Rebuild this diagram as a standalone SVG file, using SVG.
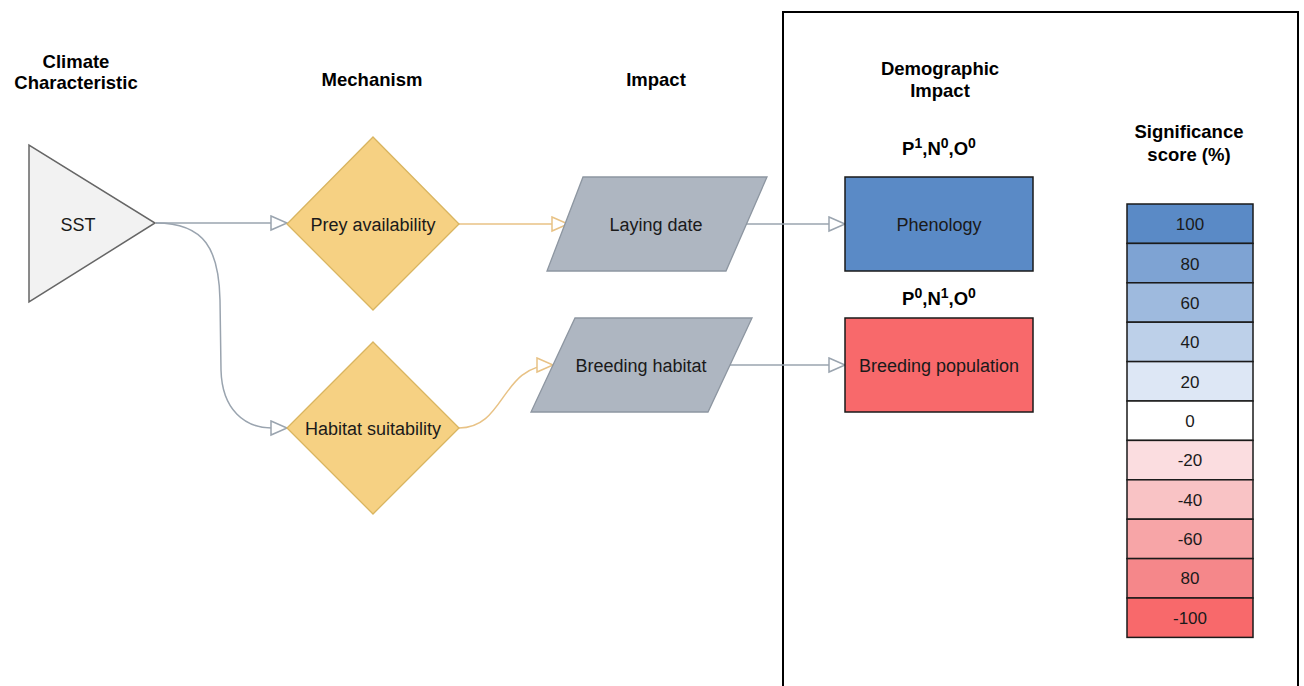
<svg xmlns="http://www.w3.org/2000/svg" width="1304" height="686" viewBox="0 0 1304 686">
<defs>
<style>
text{font-family:"Liberation Sans",Arial,sans-serif;fill:#1a1a1a;}
.h{font-size:18.5px;font-weight:bold;text-anchor:middle;fill:#000;}
.l{font-size:18px;text-anchor:middle;}
.s{font-size:17px;text-anchor:middle;}
.sup{font-size:14px;}
.dia{fill:#F6D183;stroke:#D9B560;stroke-width:1.3;}
.par{fill:#AEB6C1;stroke:#8D96A1;stroke-width:1.3;}
.g{fill:none;stroke:#9AA4AF;stroke-width:1.5;}
.o{fill:none;stroke:#E8C285;stroke-width:1.5;}
.cell{stroke:#1a1a1a;stroke-width:1.5;}
</style>
<marker id="ag" markerUnits="userSpaceOnUse" markerWidth="20" markerHeight="18" refX="17" refY="8" orient="auto">
<path d="M1,1 L17,8 L1,15 Z" fill="#fff" stroke="#9AA4AF" stroke-width="1.5"/>
</marker>
<marker id="ao" markerUnits="userSpaceOnUse" markerWidth="20" markerHeight="18" refX="17" refY="8" orient="auto">
<path d="M1,1 L17,8 L1,15 Z" fill="#fff" stroke="#E8C285" stroke-width="1.5"/>
</marker>
</defs>
<rect width="1304" height="686" fill="#fff"/>
<rect id="panel" x="783" y="12" width="515" height="700" fill="none" stroke="#000" stroke-width="2"/>

<g id="headers">
<text class="h" x="76" y="68">Climate</text>
<text class="h" x="76" y="89">Characteristic</text>
<text class="h" x="372" y="86">Mechanism</text>
<text class="h" x="656" y="86">Impact</text>
<text class="h" x="940" y="75">Demographic</text>
<text class="h" x="940" y="97">Impact</text>
<text class="h" x="1189" y="138">Significance</text>
<text class="h" x="1189" y="161">score (%)</text>
<text class="h" x="939" y="155">P<tspan class="sup" dy="-7">1</tspan><tspan dy="7">,N</tspan><tspan class="sup" dy="-7">0</tspan><tspan dy="7">,O</tspan><tspan class="sup" dy="-7">0</tspan></text>
<text class="h" x="939" y="305">P<tspan class="sup" dy="-7">0</tspan><tspan dy="7">,N</tspan><tspan class="sup" dy="-7">1</tspan><tspan dy="7">,O</tspan><tspan class="sup" dy="-7">0</tspan></text>
</g>

<g id="connectors">
<path class="g" d="M156,223 L287,223" marker-end="url(#ag)"/>
<path class="g" d="M156,223 C205,223 219,250 220,300 L221,370 C222,410 245,428 272,428 L287,428" marker-end="url(#ag)"/>
<path class="o" d="M459,224 L568,224" marker-end="url(#ao)"/>
<path class="o" d="M459,428 C506,428 500,365 553,365" marker-end="url(#ao)"/>
<path class="g" d="M745,224 L845,224" marker-end="url(#ag)"/>
<path class="g" d="M730,365 L845,365" marker-end="url(#ag)"/>
</g>

<g id="sst">
<polygon points="29,145 29,302 155,223" fill="#F2F2F2" stroke="#666" stroke-width="1.5"/>
<text class="l" x="78" y="231">SST</text>
</g>
<g id="prey">
<polygon class="dia" points="373,137 459,224 373,310 287,224"/>
<text class="l" x="373" y="231">Prey availability</text>
</g>
<g id="habitat">
<polygon class="dia" points="373,342 459,428 373,514 287,428"/>
<text class="l" x="373" y="435">Habitat suitability</text>
</g>
<g id="laying">
<polygon class="par" points="583,177 767,177 726,271 547,271"/>
<text class="l" x="656" y="231">Laying date</text>
</g>
<g id="breedhab">
<polygon class="par" points="575,318 752,318 708,412 531,412"/>
<text class="l" x="641" y="372">Breeding habitat</text>
</g>
<g id="phenology">
<rect x="845" y="177" width="188" height="94" fill="#5A8AC6" stroke="#1a1a1a" stroke-width="1.5"/>
<text class="l" x="939" y="231">Phenology</text>
</g>
<g id="breedpop">
<rect x="845" y="318" width="188" height="94" fill="#F8696B" stroke="#1a1a1a" stroke-width="1.5"/>
<text class="l" x="939" y="372">Breeding population</text>
</g>

<g id="scale">
<rect class="cell" x="1127" y="204" width="126" height="39.4" fill="#5A8AC6"/>
<rect class="cell" x="1127" y="243.4" width="126" height="39.4" fill="#7EA3D3"/>
<rect class="cell" x="1127" y="282.8" width="126" height="39.4" fill="#9EBADE"/>
<rect class="cell" x="1127" y="322.2" width="126" height="39.4" fill="#BDD0E9"/>
<rect class="cell" x="1127" y="361.6" width="126" height="39.4" fill="#DDE7F5"/>
<rect class="cell" x="1127" y="401" width="126" height="39.4" fill="#FFFFFF"/>
<rect class="cell" x="1127" y="440.4" width="126" height="39.4" fill="#FBDDE0"/>
<rect class="cell" x="1127" y="479.8" width="126" height="39.4" fill="#F9C3C5"/>
<rect class="cell" x="1127" y="519.2" width="126" height="39.4" fill="#F7A5A7"/>
<rect class="cell" x="1127" y="558.6" width="126" height="39.4" fill="#F5878A"/>
<rect class="cell" x="1127" y="598" width="126" height="39.4" fill="#F8696B"/>
<text class="s" x="1190" y="230">100</text>
<text class="s" x="1190" y="270">80</text>
<text class="s" x="1190" y="309">60</text>
<text class="s" x="1190" y="348">40</text>
<text class="s" x="1190" y="388">20</text>
<text class="s" x="1190" y="427">0</text>
<text class="s" x="1190" y="466">-20</text>
<text class="s" x="1190" y="506">-40</text>
<text class="s" x="1190" y="545">-60</text>
<text class="s" x="1190" y="584">80</text>
<text class="s" x="1190" y="624">-100</text>
</g>
</svg>
